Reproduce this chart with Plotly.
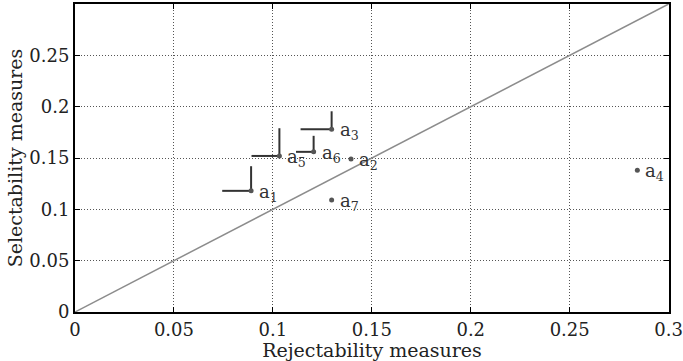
import plotly.graph_objects as go

# data
labels = ["1", "2", "3", "4", "5", "6", "7"]
rej = [0.089, 0.1395, 0.1297, 0.2842, 0.1033, 0.1206, 0.1297]
sel = [0.118, 0.149, 0.178, 0.138, 0.152, 0.156, 0.109]
h_len = [0.0146, 0.0, 0.0157, 0.0, 0.0141, 0.0089, 0.0]
v_len = [0.024, 0.0, 0.0175, 0.0, 0.027, 0.0156, 0.0]
diag_x = [0, 0.3]
diag_y = [0, 0.3]
x_ticks = [0, 0.05, 0.1, 0.15, 0.2, 0.25, 0.3]
y_ticks = [0, 0.05, 0.1, 0.15, 0.2, 0.25]

FONT = "DejaVu Serif"
DARK = "#333333"
TXT = "#222222"

fig = go.Figure()

fig.add_trace(go.Scatter(x=diag_x, y=diag_y, mode="lines",
                         line=dict(color="#8c8c8c", width=1.5),
                         hoverinfo="skip", showlegend=False))

sx, sy = [], []
for xi, yi, hl, vl in zip(rej, sel, h_len, v_len):
    if hl > 0:
        sx += [xi - hl, xi, None]
        sy += [yi, yi, None]
    if vl > 0:
        sx += [xi, xi, None]
        sy += [yi + vl, yi, None]
fig.add_trace(go.Scatter(x=sx, y=sy, mode="lines",
                         line=dict(color=DARK, width=2),
                         hoverinfo="skip", showlegend=False))

fig.add_trace(go.Scatter(x=rej, y=sel, mode="markers",
                         marker=dict(symbol="circle", size=5, color="#555555"),
                         showlegend=False))

for lab, xi, yi in zip(labels, rej, sel):
    fig.add_annotation(x=xi, y=yi, text=f"a<sub>{lab}</sub>", showarrow=False,
                       xanchor="left", yanchor="middle", xshift=6, yshift=-2,
                       font=dict(family=FONT, size=18, color=DARK))

axis_common = dict(showline=True, linecolor="black", linewidth=2, mirror="ticks",
                   ticks="inside", ticklen=5, tickcolor="black", tickwidth=1,
                   showgrid=True, gridcolor="#555555", gridwidth=1, griddash="1px,2px",
                   zeroline=False, ticklabeloverflow="allow", automargin=False,
                   tickfont=dict(family=FONT, size=18, color=TXT))

fig.update_xaxes(range=[0, 0.3002], tickvals=x_ticks, ticktext=[f"{v:g}" for v in x_ticks],
                 title=dict(text="Rejectability measures", standoff=2,
                            font=dict(family=FONT, size=19, color=TXT)),
                 **axis_common)
fig.update_yaxes(range=[0, 0.3], tickvals=y_ticks, ticktext=[f"{v:g}" for v in y_ticks],
                 title=dict(text="Selectability measures", standoff=2,
                            font=dict(family=FONT, size=19, color=TXT)),
                 **axis_common)

fig.update_layout(width=683, height=361, margin=dict(l=75, r=14, t=4, b=49),
                  plot_bgcolor="white", paper_bgcolor="white")

fig.write_html("out.html")
